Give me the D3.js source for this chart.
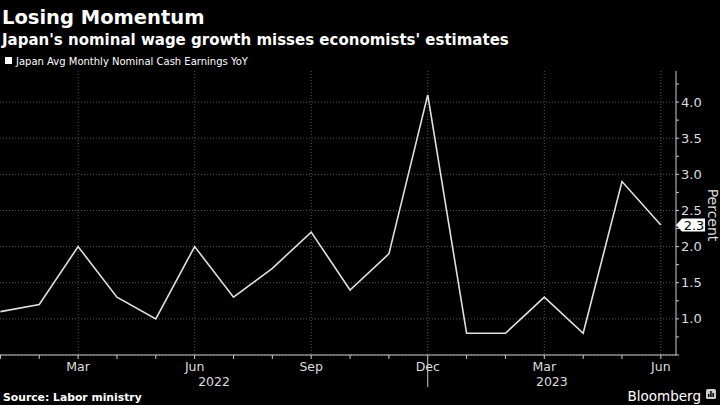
<!DOCTYPE html>
<html><head><meta charset="utf-8">
<script src="https://cdn.jsdelivr.net/npm/d3@7"></script>
<style>
html,body{margin:0;padding:0;background:#000;}
svg{display:block;font-family:"DejaVu Sans",sans-serif;}
</style></head>
<body>
<svg id="c" width="720" height="405"></svg>
<script>
const months = ["Jan","Feb","Mar","Apr","May","Jun","Jul","Aug","Sep","Oct","Nov","Dec",
                "Jan","Feb","Mar","Apr","May","Jun"];
const years = ["2022","2022","2022","2022","2022","2022","2022","2022","2022","2022","2022","2022",
               "2023","2023","2023","2023","2023","2023"];
const values = [1.1,1.2,2.0,1.3,1.0,2.0,1.3,1.7,2.2,1.4,1.9,4.1,0.8,0.8,1.3,0.8,2.9,2.3];
const yTicks = [1.0,1.5,2.0,2.5,3.0,3.5,4.0];
const labeledMonthIdx = [2,5,8,11,14,17];
const yearLabels = [{text:"2022", from:0, to:11}, {text:"2023", from:11, to:17.39}];

const svg = d3.select("#c");
const W = 720, H = 405;
const x = d3.scaleLinear().domain([0, 17.39]).range([0.4, 676]);
const y = d3.scaleLinear().domain([0.5, 4.43]).range([355, 71]);
const axisX = 676, baseY = 355;

// Titles
svg.append("text").attr("x",2).attr("y",24).attr("fill","#fff")
  .attr("font-size",19.5).attr("font-weight","bold").text("Losing Momentum");
svg.append("text").attr("x",2).attr("y",45).attr("fill","#fff")
  .attr("font-size",15).attr("font-weight","bold")
  .text("Japan's nominal wage growth misses economists' estimates");
// Legend
svg.append("rect").attr("x",5).attr("y",57).attr("width",7).attr("height",7).attr("fill","#fff");
svg.append("text").attr("x",16).attr("y",65).attr("fill","#fff")
  .attr("font-size",10).text("Japan Avg Monthly Nominal Cash Earnings YoY");

// Horizontal gridlines
svg.append("g").selectAll("line").data(yTicks.concat([0.5])).join("line")
  .attr("x1",0).attr("x2",axisX).attr("y1",d=>y(d)).attr("y2",d=>y(d))
  .attr("stroke","#555").attr("stroke-width",1).attr("stroke-dasharray","1,2");
// Vertical gridlines
svg.append("g").selectAll("line").data(labeledMonthIdx).join("line")
  .attr("x1",d=>x(d)).attr("x2",d=>x(d)).attr("y1",71).attr("y2",baseY)
  .attr("stroke","#555").attr("stroke-width",1).attr("stroke-dasharray","1,2");

// Right axis
const yAxisG = svg.append("g").attr("transform",`translate(${axisX},0)`);
yAxisG.append("line").attr("x1",0).attr("x2",0).attr("y1",71).attr("y2",baseY)
  .attr("stroke","#ccc").attr("stroke-width",1);
const minor = d3.range(0.5, 4.43, 0.25);
yAxisG.selectAll("line.mt").data(minor).join("line").attr("class","mt")
  .attr("x1",0).attr("x2",3).attr("y1",d=>y(d)).attr("y2",d=>y(d))
  .attr("stroke","#ccc");
yAxisG.selectAll("text").data(yTicks).join("text")
  .attr("x",5).attr("y",d=>y(d)).attr("dy","0.35em").attr("fill","#ddd")
  .attr("font-size",13).text(d=>d.toFixed(1));

// Bottom axis
const xAxisG = svg.append("g");
xAxisG.append("line").attr("x1",0).attr("x2",axisX).attr("y1",baseY).attr("y2",baseY)
  .attr("stroke","#ccc");
xAxisG.selectAll("line.mt").data(d3.range(months.length)).join("line").attr("class","mt")
  .attr("x1",d=>x(d)).attr("x2",d=>x(d)).attr("y1",baseY).attr("y2",d=>d===11?387:baseY+4)
  .attr("stroke","#ccc");
xAxisG.selectAll("text.m").data(labeledMonthIdx).join("text").attr("class","m")
  .attr("x",d=>x(d)).attr("y",371).attr("text-anchor","middle").attr("fill","#ddd")
  .attr("font-size",12.5).text(d=>months[d]);
xAxisG.selectAll("text.yr").data(yearLabels).join("text").attr("class","yr")
  .attr("x",d=>(x(d.from)+x(d.to))/2).attr("y",386).attr("text-anchor","middle").attr("fill","#ddd")
  .attr("font-size",12.5).text(d=>d.text);

// Line
const line = d3.line().x((d,i)=>x(i)).y(d=>y(d));
svg.append("path").datum(values).attr("d",line).attr("fill","none")
  .attr("stroke","#e0e0e0").attr("stroke-width",1.6).attr("stroke-linejoin","miter");

// Last value label
const last = values[values.length-1];
const ly = y(last);
svg.append("path")
  .attr("d",`M${axisX},${ly} L${axisX+6},${ly-6.5} L${axisX+29},${ly-6.5} L${axisX+29},${ly+6.5} L${axisX+6},${ly+6.5} Z`)
  .attr("fill","#fff");
svg.append("text").attr("x",axisX+18).attr("y",ly).attr("dy","0.36em").attr("text-anchor","middle")
  .attr("fill","#000").attr("font-size",13).text(last.toFixed(1));

// Percent label
svg.append("text").attr("transform",`translate(708,215) rotate(90)`).attr("text-anchor","middle")
  .attr("fill","#ddd").attr("font-size",14).text("Percent");

// Footer
svg.append("text").attr("x",3).attr("y",401).attr("fill","#fff").attr("font-size",10.8)
  .attr("font-weight","bold").text("Source: Labor ministry");
svg.append("text").attr("x",701).attr("y",401).attr("text-anchor","end").attr("fill","#fff")
  .attr("font-size",13.5).text("Bloomberg");
svg.append("rect").attr("x",706).attr("y",389).attr("width",10).attr("height",10).attr("rx",1.5).attr("fill","#ccc");
svg.append("g").selectAll("rect").data([3,6,4]).join("rect")
  .attr("x",(d,i)=>708+i*2.2).attr("y",d=>397-d).attr("width",1.5).attr("height",d=>d).attr("fill","#000");
</script>
</body></html>
